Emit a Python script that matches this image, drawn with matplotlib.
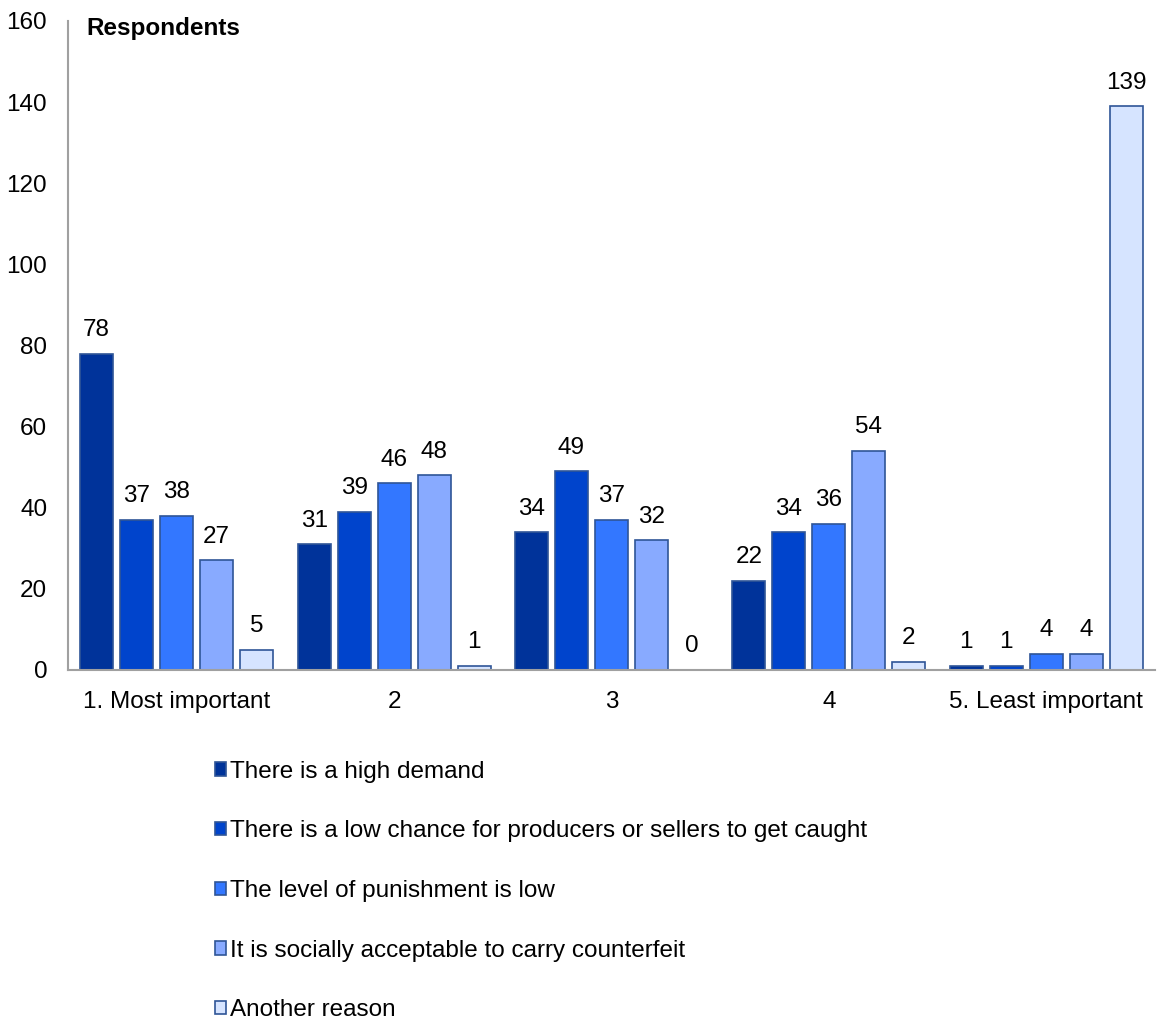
import numpy as np
import matplotlib.pyplot as plt
from matplotlib.patches import Patch

plt.rcParams['font.family'] = ['Liberation Sans', 'DejaVu Sans']

categories = ['1. Most important', '2', '3', '4', '5. Least important']
reasons = ['There is a high demand',
           'There is a low chance for producers or sellers to get caught',
           'The level of punishment is low',
           'It is socially acceptable to carry counterfeit',
           'Another reason']
high_demand = [78, 31, 34, 22, 1]
low_chance = [37, 39, 49, 34, 1]
low_punishment = [38, 46, 37, 36, 4]
socially_ok = [27, 48, 32, 54, 4]
another = [5, 1, 0, 2, 139]

series = [high_demand, low_chance, low_punishment, socially_ok, another]
colors = ['#00339A', '#0044CC', '#3377FF', '#88AAFF', '#D6E4FF']
edge = '#2F5597'
fs = 17.5

fig = plt.figure(figsize=(11.58, 10.21), dpi=100)
ax = fig.add_axes([0.0587, 0.3438, 0.9387, 0.6357])

x = np.arange(len(categories))
width = 0.152
step = 0.184
for i, (vals, col) in enumerate(zip(series, colors)):
    pos = x + (i - 2) * step
    bars = ax.bar(pos, vals, width, color=col, edgecolor=edge, linewidth=1.2, label=reasons[i])
    for b, v in zip(bars, vals):
        ax.annotate(str(v), (b.get_x() + b.get_width() / 2, v), xytext=(0, 9),
                    textcoords='offset points', ha='center', va='bottom', fontsize=fs)

ax.set_xlim(-0.5, 4.5)
ax.set_ylim(0, 160)
ax.set_yticks(range(0, 161, 20))
ax.set_xticks(x)
ax.set_xticklabels(categories)
ax.tick_params(axis='both', length=0, labelsize=fs)
ax.tick_params(axis='y', pad=15)
ax.tick_params(axis='x', pad=15)
for s in ['top', 'right']:
    ax.spines[s].set_visible(False)
for s in ['left', 'bottom']:
    ax.spines[s].set_color('#A0A0A0')
    ax.spines[s].set_linewidth(1.5)

fig.text(0.075, 0.9716, 'Respondents', fontsize=fs, fontweight='bold', va='center', ha='left')

handles = [Patch(facecolor=c, edgecolor=edge, linewidth=1.2) for c in colors]
fig.legend(handles, reasons, loc='upper left', bbox_to_anchor=(0.177, 0.2645),
           frameon=False, fontsize=fs, handlelength=0.45, handleheight=0.45,
           handletextpad=0.17, labelspacing=1.55, borderaxespad=0)

fig.savefig('out.png', dpi=100)
